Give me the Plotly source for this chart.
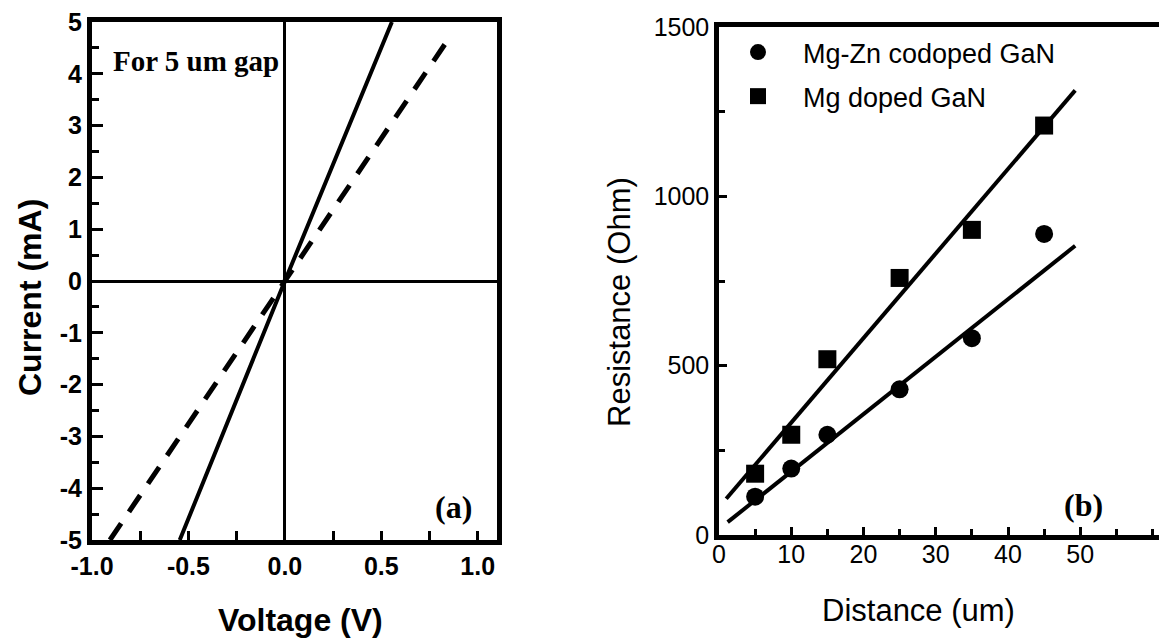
import plotly.graph_objects as go

# ---- Panel (a): I-V curves ----
iv_solid_v = [-0.545, 0.0, 0.555]
iv_solid_i = [-5.0, 0.0, 5.0]
iv_dash_v = [-0.907, 0.0, 0.855]
iv_dash_i = [-5.0, 0.0, 4.71]

# ---- Panel (b): TLM resistance ----
dist = [5, 10, 15, 25, 35, 45]
r_mgzn = [113, 196, 296, 430, 581, 889]
r_mg = [181, 296, 519, 759, 901, 1209]
fit_x_mg = [1.0, 49.3]
fit_y_mg = [107, 1313]
fit_x_mgzn = [1.2, 49.3]
fit_y_mgzn = [38, 854]

xa_ticks = [-1.0, -0.5, 0.0, 0.5, 1.0]
xa_labels = ["-1.0", "-0.5", "0.0", "0.5", "1.0"]
ya_ticks = [-5, -4, -3, -2, -1, 0, 1, 2, 3, 4, 5]
ya_labels = ["-5", "-4", "-3", "-2", "-1", "0", "1", "2", "3", "4", "5"]
xb_ticks = [0, 10, 20, 30, 40, 50]
yb_ticks = [0, 500, 1000, 1500]

W, H = 1159, 642
fig = go.Figure()

fig.add_trace(go.Scatter(x=iv_solid_v, y=iv_solid_i, mode="lines",
                         line=dict(color="black", width=4), showlegend=False,
                         xaxis="x", yaxis="y"))
fig.add_trace(go.Scatter(x=iv_dash_v, y=iv_dash_i, mode="lines",
                         line=dict(color="black", width=5, dash="20px,14px"),
                         showlegend=False, xaxis="x", yaxis="y"))

fig.add_trace(go.Scatter(x=fit_x_mg, y=fit_y_mg, mode="lines",
                         line=dict(color="black", width=4), showlegend=False,
                         xaxis="x2", yaxis="y2"))
fig.add_trace(go.Scatter(x=fit_x_mgzn, y=fit_y_mgzn, mode="lines",
                         line=dict(color="black", width=4), showlegend=False,
                         xaxis="x2", yaxis="y2"))
fig.add_trace(go.Scatter(x=dist, y=r_mgzn, mode="markers", name="Mg-Zn codoped GaN",
                         marker=dict(symbol="circle", size=18, color="black"),
                         legendgroup="a", xaxis="x2", yaxis="y2"))
fig.add_trace(go.Scatter(x=dist, y=r_mg, mode="markers", name="Mg doped GaN",
                         marker=dict(symbol="square", size=18, color="black"),
                         legendgroup="b", xaxis="x2", yaxis="y2"))

bold_tick = dict(family="Arial", size=25, color="black", weight="bold")
reg_tick = dict(family="Arial", size=25, color="black")

fig.update_layout(
    width=W, height=H,
    margin=dict(l=0, r=0, t=0, b=0, autoexpand=False),
    paper_bgcolor="white", plot_bgcolor="white",
    xaxis=dict(domain=[92 / W, 497 / W], range=[-1.0, 1.1], automargin=False,
               tickvals=xa_ticks, ticktext=xa_labels, tickfont=bold_tick,
               ticks="inside", ticklen=9, tickwidth=3, tickcolor="black",
               minor=dict(dtick=0.25, tick0=0, ticks="inside", ticklen=9, tickwidth=3, tickcolor="black"),
               showline=True, linewidth=5, linecolor="black", mirror=True,
               showgrid=False, zeroline=True, zerolinewidth=2.5, zerolinecolor="black",
               anchor="y"),
    yaxis=dict(domain=[1 - 540 / H, 1 - 22 / H], range=[-5, 5], automargin=False,
               tickvals=ya_ticks, ticktext=ya_labels, tickfont=bold_tick,
               ticks="inside", ticklen=11, tickwidth=3, tickcolor="black",
               minor=dict(dtick=0.5, tick0=0, ticks="inside", ticklen=7, tickwidth=3, tickcolor="black"),
               showline=True, linewidth=5, linecolor="black", mirror=True,
               showgrid=False, zeroline=True, zerolinewidth=2.5, zerolinecolor="black",
               anchor="x"),
    xaxis2=dict(domain=[719 / W, 1.0], range=[0, 60.9], automargin=False,
                tickvals=xb_ticks, tickfont=reg_tick, ticklabelstandoff=-7,
                ticks="inside", ticklen=8, tickwidth=3, tickcolor="black",
                minor=dict(dtick=5, tick0=0, ticks="inside", ticklen=6, tickwidth=3, tickcolor="black"),
                showline=True, linewidth=4.5, linecolor="black", mirror=True,
                showgrid=False, zeroline=False, anchor="y2"),
    yaxis2=dict(domain=[1 - 535 / H, 1 - 27 / H], range=[0, 1500], automargin=False,
                tickvals=yb_ticks, tickfont=reg_tick,
                ticks="inside", ticklen=8, tickwidth=3, tickcolor="black",
                minor=dict(dtick=250, tick0=0, ticks="inside", ticklen=6, tickwidth=3, tickcolor="black"),
                showline=True, linewidth=4.5, linecolor="black", mirror=False,
                showgrid=False, zeroline=False, anchor="x2"),
    legend=dict(x=713 / W, y=1 - 28 / H, xanchor="left", yanchor="top",
                font=dict(family="Arial", size=27, color="black"),
                bgcolor="rgba(0,0,0,0)", tracegroupgap=6, itemsizing="trace",
                itemwidth=80),
    showlegend=True,
)

ann = [
    dict(text="Current (mA)", x=30 / W, y=1 - 298 / H, textangle=-90,
         font=dict(family="Arial", size=32, color="black", weight="bold")),
    dict(text="Voltage (V)", x=300 / W, y=1 - 620 / H,
         font=dict(family="Arial", size=32, color="black", weight="bold")),
    dict(text="Resistance (Ohm)", x=620 / W, y=1 - 302 / H, textangle=-90,
         font=dict(family="Arial", size=31, color="black")),
    dict(text="Distance (um)", x=918 / W, y=1 - 610 / H,
         font=dict(family="Arial", size=31, color="black")),
    dict(text="For 5 um gap", x=111 / W, y=1 - 61 / H, xanchor="left",
         font=dict(family="Times New Roman", size=29, color="black", weight="bold")),
    dict(text="(a)", x=453 / W, y=1 - 507 / H,
         font=dict(family="Times New Roman", size=32, color="black", weight="bold")),
    dict(text="(b)", x=1083 / W, y=1 - 505 / H,
         font=dict(family="Times New Roman", size=32, color="black", weight="bold")),
]
for a in ann:
    a.update(xref="paper", yref="paper", showarrow=False)
    a.setdefault("xanchor", "center")
    a.setdefault("yanchor", "middle")
fig.update_layout(annotations=ann)

fig.write_html("out.html", config={"displayModeBar": False},
               post_script="document.body.style.margin='0';document.body.style.overflow='hidden';")
